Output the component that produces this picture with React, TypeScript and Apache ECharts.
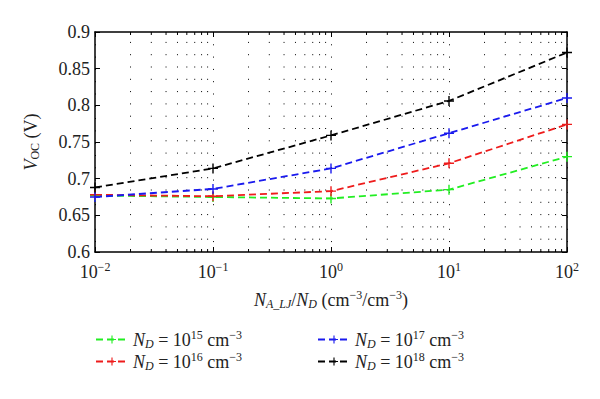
import React, { useEffect, useRef } from "react";
import * as echarts from "echarts";

const xValues = [0.01, 0.1, 1, 10, 100];
const nd15 = [0.677, 0.675, 0.673, 0.685, 0.73];
const nd16 = [0.678, 0.676, 0.683, 0.721, 0.774];
const nd17 = [0.675, 0.686, 0.714, 0.762, 0.81];
const nd18 = [0.688, 0.714, 0.759, 0.806, 0.872];
const minorX = [
  0.02, 0.03, 0.04, 0.05, 0.06, 0.07, 0.08, 0.09,
  0.2, 0.3, 0.4, 0.5, 0.6, 0.7, 0.8, 0.9,
  2, 3, 4, 5, 6, 7, 8, 9,
  20, 30, 40, 50, 60, 70, 80, 90,
];
const seriesExp: Record<string, string> = { nd15: "15", nd16: "16", nd17: "17", nd18: "18" };
const colors = ["#22ee22", "#ee1c1c", "#1a1aee", "#000000"];

const FONT = "Liberation Serif";
const PLUS = "path://M4.3,0h1.4v4.3h4.3v1.4h-4.3v4.3h-1.4v-4.3h-4.3v-1.4h4.3z";

export default function App() {
  const ref = useRef<HTMLDivElement>(null);
  useEffect(() => {
    const chart = echarts.init(ref.current!, null, { renderer: "svg" });
    const rich = {
      n: { fontFamily: FONT, fontSize: 18, color: "#222", lineHeight: 21 },
      i: { fontFamily: FONT, fontSize: 18, fontStyle: "italic", color: "#222", lineHeight: 21 },
      sub: { fontFamily: FONT, fontSize: 12, verticalAlign: "bottom", color: "#222", lineHeight: 12 },
      isub: { fontFamily: FONT, fontSize: 12, fontStyle: "italic", verticalAlign: "bottom", color: "#222", lineHeight: 12 },
      sup: { fontFamily: FONT, fontSize: 12, verticalAlign: "top", color: "#222", lineHeight: 12 },
    };
    const mkSeries = (name: string, data: number[], color: string) => ({
      name,
      type: "line",
      data: xValues.map((x, k) => [x, data[k]]),
      symbol: PLUS,
      symbolSize: 10,
      itemStyle: { color },
      lineStyle: { color, width: 1.8, type: [7, 4] },
      z: 5,
    });
    const legendFmt = (name: string) =>
      `{i|N}{isub|D}{n| = 10}{sup|${seriesExp[name]}}{n| cm}{sup|−3}`;
    const legendCommon = {
      orient: "vertical",
      itemWidth: 32,
      itemHeight: 10,
      itemGap: 1,
      padding: 0,
      formatter: legendFmt,
      textStyle: { rich, fontFamily: FONT, fontSize: 18 },
      selectedMode: false,
    };
    chart.setOption({
      animation: false,
      textStyle: { fontFamily: FONT },
      grid: { left: 95, right: 33, top: 32, bottom: 147 },
      xAxis: [
        {
          type: "log",
          logBase: 10,
          min: 0.01,
          max: 100,
          name: "{i|N}{isub|A_LJ}{n|/}{i|N}{isub|D}{n| (cm}{sup|−3}{n|/cm}{sup|−3}{n|)}",
          nameLocation: "middle",
          nameGap: 37,
          nameTextStyle: { rich, fontFamily: FONT },
          axisLine: { lineStyle: { color: "#000", width: 1.5 } },
          axisTick: { inside: true, length: 5, lineStyle: { color: "#000" } },
          axisLabel: {
            formatter: (v: number) => `{n|10}{sup|${Math.round(Math.log10(v)).toString().replace("-", "−")}}`,
            rich,
            fontFamily: FONT,
            margin: 9,
          },
          splitLine: { show: true, lineStyle: { color: "#000", type: [1, 11.3], width: 1 } },
        },
        {
          type: "log",
          logBase: 10,
          min: 0.01,
          max: 100,
          position: "top",
          axisLine: { lineStyle: { color: "#000", width: 1.5 } },
          axisTick: { inside: true, length: 5, lineStyle: { color: "#000" } },
          axisLabel: { show: false },
          splitLine: { show: false },
        },
      ],
      yAxis: [
        {
          type: "value",
          min: 0.6,
          max: 0.9,
          interval: 0.05,
          name: "{i|V}{sub|OC}{n| (V)}",
          nameLocation: "middle",
          nameGap: 54,
          nameRotate: 90,
          nameTextStyle: { rich, fontFamily: FONT },
          axisLine: { show: true, lineStyle: { color: "#000", width: 1.5 } },
          axisTick: { show: true, inside: true, length: 5, lineStyle: { color: "#000" } },
          axisLabel: {
            formatter: (v: number) => `{n|${parseFloat(v.toFixed(2))}}`,
            rich,
            fontFamily: FONT,
            margin: 5,
          },
          splitLine: { show: false },
        },
        {
          type: "value",
          min: 0.6,
          max: 0.9,
          interval: 0.05,
          position: "right",
          axisLine: { show: true, lineStyle: { color: "#000", width: 1.5 } },
          axisTick: { show: true, inside: true, length: 5, lineStyle: { color: "#000" } },
          axisLabel: { show: false },
          splitLine: { show: false },
        },
      ],
      legend: [
        { ...legendCommon, left: 95, top: 329, data: ["nd15", "nd16"] },
        { ...legendCommon, left: 317, top: 329, data: ["nd17", "nd18"] },
      ],
      series: [
        mkSeries("nd15", nd15, colors[0]),
        mkSeries("nd16", nd16, colors[1]),
        mkSeries("nd17", nd17, colors[2]),
        mkSeries("nd18", nd18, colors[3]),
        {
          type: "custom",
          name: "minor",
          data: minorX.map((x) => [x]),
          encode: { x: 0 },
          silent: true,
          z: 3,
          renderItem: (params: any, api: any) => {
            const x = api.value(0);
            const b = api.coord([x, 0.6]);
            const t = api.coord([x, 0.9]);
            const lineStyle = { stroke: "#000", lineWidth: 1 };
            return {
              type: "group",
              children: [
                { type: "line", shape: { x1: b[0], y1: b[1], x2: b[0], y2: b[1] - 3 }, style: lineStyle },
                { type: "line", shape: { x1: t[0], y1: t[1], x2: t[0], y2: t[1] + 3 }, style: lineStyle },
                {
                  type: "line",
                  shape: { x1: b[0], y1: b[1], x2: t[0], y2: t[1] },
                  style: { stroke: "#000", lineWidth: 1, lineDash: [1, 11.3] },
                },
              ],
            };
          },
        },
      ],
    });
    return () => chart.dispose();
  }, []);
  return <div ref={ref} style={{ width: 600, height: 399, position: "absolute", left: 0, top: 0, background: "#fff" }} />;
}
